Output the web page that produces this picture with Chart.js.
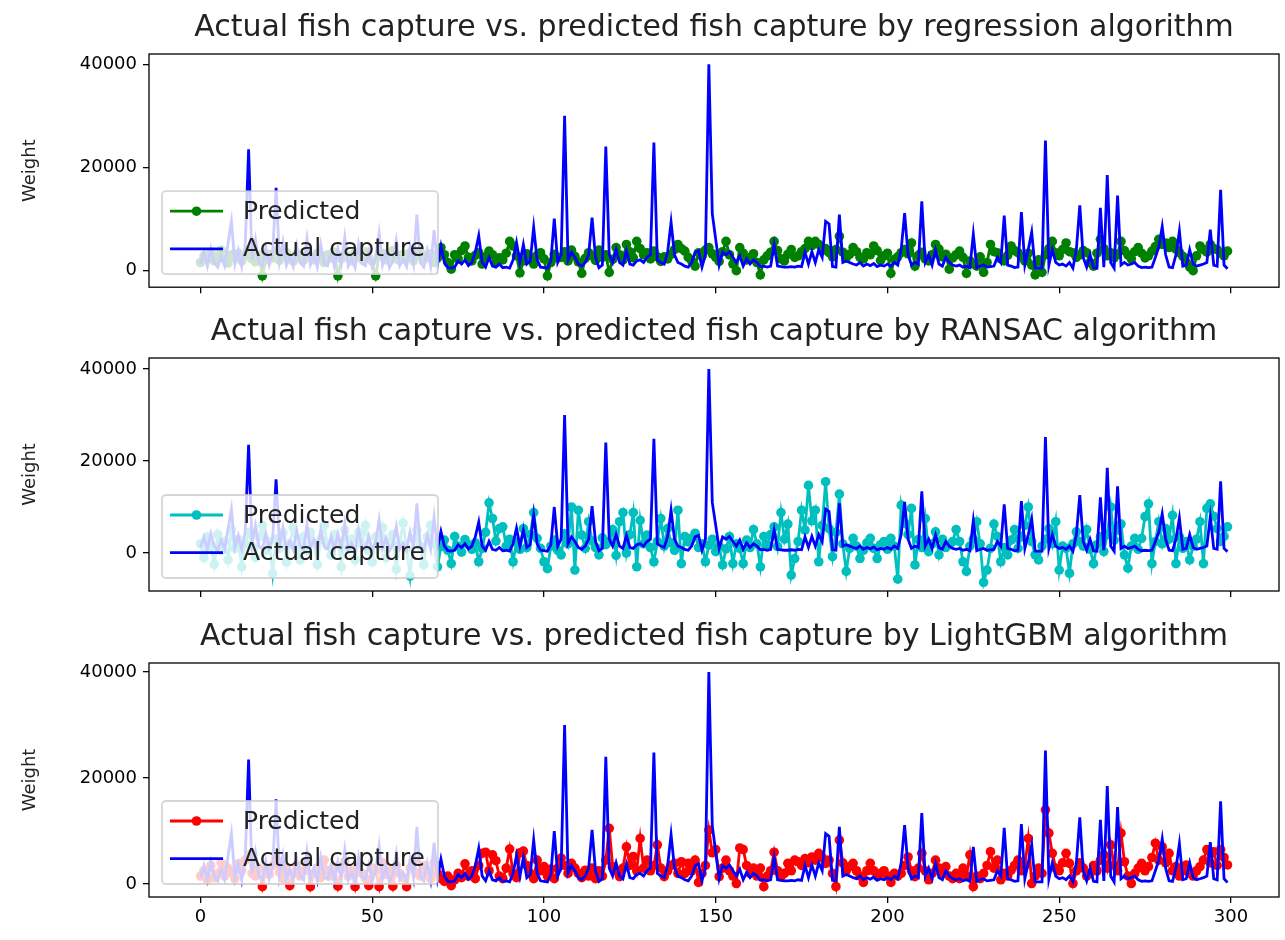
<!DOCTYPE html>
<html>
<head>
<meta charset="utf-8">
<script src="https://cdn.jsdelivr.net/npm/chart.js@4.4.1/dist/chart.umd.min.js"></script>
<style>
  html, body { margin: 0; padding: 0; background: #fff; }
  #figure { position: relative; width: 1285px; height: 940px; background: #fff; }
  #figure canvas { position: absolute; left: 0; }
</style>
</head>
<body>
<div id="figure">
  <canvas id="regChart" width="1285" height="304" style="top:0px"></canvas>
  <canvas id="ransacChart" width="1285" height="305" style="top:304px"></canvas>
  <canvas id="lgbmChart" width="1285" height="331" style="top:609px"></canvas>
</div>
<script>
// Actual capture (same in every panel), one value per sample index 0..299
const actualCapture = [
  1200, 3500, 800, 4200, 1500, 600, 2800, 900, 5200, 9500,
  1200, 3800, 700, 4500, 23500, 2000, 6000, 1500, 800, 4300,
  1000, 3200, 16000, 1800, 5500, 900, 2600, 700, 4800, 1500,
  800, 6200, 1100, 3000, 600, 5000, 1400, 900, 3600, 700,
  4200, 1200, 6400, 800, 2200, 500, 5100, 1300, 900, 3700,
  600, 2500, 7200, 1000, 3300, 500, 1800, 5800, 900, 2100,
  700, 4600, 1200, 10800, 1500, 600, 3900, 800, 7800, 1100,
  4700, 1500, 500, 400, 600, 1800, 1200, 2000, 900, 1500,
  3500, 6700, 1500, 600, 2500, 800, 600, 1200, 500, 600,
  400, 2000, 5400, 1500, 5000, 1200, 1800, 8300, 2000, 600,
  500, 400, 1800, 10000, 1500, 3000, 30000, 2000, 3500, 2500,
  1200, 800, 1500, 3000, 10200, 2500, 500, 1000, 24000, 3000,
  1500, 4000, 1500, 1000, 3800, 1200, 1000, 1800, 2000, 1500,
  2500, 3000, 24800, 2000, 1500, 1200, 3500, 9300, 3000, 1500,
  1200, 800, 600, 1500, 3500, 3800, 600, 3000, 40000, 11000,
  6000, 1000, 3500, 3000, 3600, 2500, 1500, 2800, 800, 2200,
  1200, 2000, 1500, 700, 800, 600, 800, 5000, 800, 700,
  600, 600, 700, 600, 800, 700, 3500, 1200, 3600, 1500,
  4000, 2500, 9500, 9000, 700, 600, 10800, 1500, 1800, 1500,
  1200, 1000, 1500, 800, 1200, 900, 1300, 700, 1000, 800,
  1200, 800, 1500, 1000, 4000, 11100, 3000, 1000, 1500, 1200,
  13400, 1500, 3000, 1000, 3900, 1200, 800, 2500, 1500, 1000,
  800, 1000, 600, 800, 500, 7000, 500, 800, 1000, 600,
  700, 800, 2500, 1500, 10600, 1000, 800, 500, 600, 11300,
  1000, 4000, 7400, 400, 400, 400, 25200, 1000, 4000, 1500,
  1000, 1200, 800, 1500, 400, 4000, 12600, 2500, 600, 3000,
  500, 400, 12100, 600, 18500, 1500, 400, 14500, 1000, 1500,
  1000, 1200, 1500, 800, 500, 600, 500, 600, 2500, 4500,
  8500, 3000, 600, 500, 3000, 7600, 800, 1000, 4000, 1200,
  800, 1000, 1200, 1500, 7900, 1000, 800, 15600, 1000, 300
];

// Regression predictions
const regressionPred = [
  1500, 2800, 2200, 3500, 1800, 2600, 3900, 2100, 1400, 3000,
  2500, 3300, 1800, 2700, 3800, 2200, 1600, 2900, -1100, 2000,
  3100, 2400, 3600, 1900, 2800, 3400, 2300, 1700, 3200, 2600,
  1900, 3700, 2500, 2000, 3300, 2700, 1500, 3000, 2400, 3500,
  -1100, 2200, 3100, 2600, 1800, 3400, 2900, 2100, 3600, 2300,
  1700, -1100, 2800, 3300, 2000, 2600, 3800, 2200, 1900, 3100,
  2500, 3400, 1800, 2900, 3600, 2100, 2700, 3200, 1500, 2400,
  4400, 3000, 1500, 200, 3000, 2200, 3800, 4700, 2500, 1800,
  2900, 3400, 1200, 2600, 3700, 3000, 1500, 2400, 2000, 3300,
  5600, 4700, 2800, -500, 1800, 3200, 2500, 1200, 2900, 3400,
  2200, -1100, 1500, 3100, 2400, 2500, 3600, 1800, 3900, 2700,
  1600, -600, 2300, 3400, 2800, 1900, 3900, 2500, 3000, -400,
  2100, 4400, 3000, 2000, 5000, 3600, 2400, 5600, 4200, 3000,
  3400, 2200, 3700, 2600, 1700, 2600, 2200, 3100, 4000, 5000,
  4200, 3700, 2500, 1800, 800, 3400, 2700, 3900, 4400, 3200,
  2500, 1700, 3600, 5600, 3000, 1200, -100, 4400, 3300, 2000,
  2500, 3200, 1500, -900, 2000, 2800, 3500, 5600, 3800, 2200,
  1800, 3100, 4000, 2500, 2800, 3600, 4200, 5600, 4800, 5600,
  5000, 3800, 4200, 3400, 2600, 4000, 6600, 3500, 2400, 3100,
  4400, 3600, 2500, 2200, 3400, 3000, 4700, 3800, 1900, 2800,
  3300, -600, 2100, 2600, 3400, 4000, 3200, 5300, 800, 2900,
  3500, 2200, 1800, 3000, 5000, 4100, 2600, 3100, 200, 2400,
  3000, 3700, 2500, -600, 1800, 1200, 800, 2600, -400, 1500,
  5000, 3600, 3400, 2200, 1800, 2900, 4700, 3800, 3400, 2600,
  1800, 3300, 1000, -900, 2000, -400, 3000, 4200, 5600, 3400,
  2800, 4000, 5300, 3600, 3400, 2500, 3000, 3800, 3400, 1500,
  800, 3300, 6000, 4200, 2800, 3400, 2400, 3100, 5600, 3800,
  3000, 2200, 3600, 4400, 3300, 2400, 2800, 3700, 4600, 6000,
  5000, 5300, 4400, 5600, 4100, 3400, 2700, 1500, 600, -100,
  2800, 4700, 4000, 3500, 5000, 4200, 4000, 3300, 2800, 3700
];

// RANSAC predictions
const ransacPred = [
  2000, -1000, 3500, 1500, -2500, 4000, 500, 2500, -1500, 5000,
  1000, 3000, -3000, 2000, 4500, 1500, -1000, 3500, 6000, 500,
  2500, -4500, 3000, 1000, 4500, -2000, 2000, 5500, 1000, -1500,
  3500, 500, 4500, 2000, -2500, 3000, 6000, 1500, -500, 4000,
  2500, -3000, 5000, 1000, 3000, -1500, 4500, 2000, 6000, 500,
  -2000, 3500, 1500, 5500, -1000, 2500, 4000, -3500, 2000, 6500,
  1000, -5000, 3000, 5000, 1500, -2500, 3500, 6000, 2000, -3000,
  1400, 2800, 600, -2300, 3600, 1500, 200, 2900, 1800, 800,
  2200, -1900, 1000, 4500, 10900, 7500, 2600, 5300, 5700, 1500,
  3000, -1900, 2400, 800, 5300, 1200, 4000, 8800, 3200, 1000,
  -1900, -3400, 1500, 2800, 600, -400, 4200, 2000, 10000, -3700,
  9300, 3900, 1000, 6800, 2600, 1200, -400, 3300, 1800, 2500,
  5100, -500, 6800, 8800, 0, 4000, 8800, -3000, 7100, 2000,
  3900, 1200, -1900, 2500, 7500, 1500, 5300, 2200, 600, 9300,
  -2300, 3600, 2400, 3200, 4300, 1200, 2000, -1900, 1700, 3000,
  300, 1500, -2600, 900, 3600, -2300, 2000, 1000, -2300, 2800,
  1200, 5100, 2000, -3000, 3600, 1800, 4000, 5700, 1400, 8800,
  3000, 6300, -4800, -1200, 2500, 9300, 5000, 14700, 7000, 9300,
  -1900, 6000, 15500, 5300, -800, 4500, 12800, 2000, -4000, 1000,
  3200, 1500, -1200, 600, 2200, 3200, 1000, -1200, 1800, 2500,
  800, 3200, 1500, -5700, 10400, 6500, 4000, 9700, -2600, 2900,
  1200, 7500, 300, 2000, 4600, -400, 3000, 1200, 1800, 2500,
  5100, 2500, -1900, -4000, 1500, 3000, 6800, 2000, -6400, -3700,
  1000, 6300, 3600, -1900, 1200, -400, 2800, 5100, 1000, 3500,
  6000, 10000, 2500, -400, -1500, 1500, 3000, 5300, 2000, 6800,
  -3700, 1500, 1000, -4400, 2000, 4600, 2500, 1500, 5100, 800,
  -2300, 1800, 3500, 300, 4000, 10000, 2800, 5000, 6300, -400,
  -3300, 1500, 3200, 800, 3200, 7900, 10700, -2300, 2500, 6800,
  2000, 5300, 3000, 8200, -2300, 3500, 1000, 2500, -1500, 1500,
  3000, 6800, -2300, 9700, 10700, 8000, 5300, 2500, 3600, 5700
];

// LightGBM predictions
const lightgbmPred = [
  1500, 2500, 800, 3500, 1200, 2000, 4000, 1500, 3000, 2200,
  1000, 3800, 2500, 4500, 5500, 2000, 1500, 3000, -500, 2500,
  1800, 3500, 4800, 2200, 1000, 3000, -300, 2000, 3500, 1500,
  2500, 4000, -500, 2000, 3000, 1200, 4500, 2500, 1500, 3200,
  -400, 2800, 4200, 1500, 2500, -500, 3500, 2000, 1000, -300,
  3000, 2500, -500, 4000, 1800, 2500, -400, 3500, 2000, 1200,
  -500, 3000, 4500, 2000, 1500, 3500, 2500, 1000, 4000, 2000,
  1000, 500, 1500, -300, 800, 2000, 1200, 3800, 1500, 2500,
  1000, 3500, 5800, 6000, 2500, 5500, 4400, 1500, 1000, 3000,
  6600, 2000, 1200, 5900, 6200, 3500, 2000, 1000, 4500, 2500,
  3300, 1500, 2800, 1000, 3000, 4900, 3500, 2000, 3900, 3000,
  2000, 1200, 2600, 1500, 3000, 1000, 2500, 1500, 4500, 10500,
  3300, 2500, 1400, 3000, 7000, 3500, 5200, 2500, 8600, 3000,
  4500, 2500, 3500, 7400, 3000, 1400, 2500, 3500, 3900, 2000,
  4200, 2000, 3900, 2500, 4500, 300, 2000, 3500, 10200, 5900,
  6500, 1400, 3000, 4500, 2500, 1500, 100, 6800, 6500, 3500,
  2000, 3000, 1500, 3000, -500, 1500, 2500, 6000, 2500, 1400,
  2000, 3900, 2500, 4500, 4200, 3500, 4800, 4000, 5100, 4500,
  5800, 5000, 3900, 4500, 2000, -500, 8300, 4000, 2500, 3300,
  3900, 2500, 1500, 300, 2500, 3900, 2500, 1500, 2000, 2500,
  1500, 300, 2000, 1500, 2000, 3500, 5100, 2500, 1400, 3000,
  5800, 2500, 800, 2000, 4500, 3000, 2000, 3300, 1500, 1000,
  2000, 1000, 3000, 1500, 5500, -500, 1500, 1000, 2000, 3500,
  6100, 3000, 4500, 800, 2000, 1500, 2600, 3500, 4500, 2500,
  3500, 8600, 100, 1500, 3000, 2000, 14000, 9600, 5800, 3000,
  2500, 4000, 5800, 3900, 100, 2500, 4000, 3000, 1500, 2000,
  3500, 2500, 4500, 5500, 3000, 7400, 3500, 2500, 9600, 4200,
  1500, 100, 2000, 3000, 3900, 2500, 3300, 5000, 7700, 4500,
  7000, 4000, 5800, 2500, 3300, 1500, 2500, 3600, 2000, 1500,
  2500, 3300, 4500, 6500, 4000, 6100, 3500, 6500, 5000, 3600
];

const xTicks = [0, 50, 100, 150, 200, 250, 300];
const yTicks = [0, 20000, 40000];
const actualColor = '#0000ff';

const toPoints = arr => arr.map((y, i) => ({ x: i, y: y }));

Chart.defaults.font.family = '"DejaVu Sans", sans-serif';
Chart.defaults.font.size = 18;
Chart.defaults.color = '#000';

// legend box inside the axes, frame, title and y label
const panelDecor = {
  id: 'panelDecor',
  afterDatasetsDraw(chart, args, opts) {
    const ctx = chart.ctx;
    const a = chart.chartArea;
    const bw = 276, bh = 83;
    const bx = a.left + 13, by = a.bottom - 13 - bh;
    ctx.save();
    ctx.beginPath();
    ctx.roundRect(bx, by, bw, bh, 4);
    ctx.fillStyle = 'rgba(255,255,255,0.8)';
    ctx.fill();
    ctx.strokeStyle = 'rgba(204,204,204,0.8)';
    ctx.lineWidth = 1.8;
    ctx.stroke();
    const rows = [
      { label: 'Predicted', color: opts.predColor, marker: true },
      { label: 'Actual capture', color: actualColor, marker: false }
    ];
    rows.forEach((r, i) => {
      const y = by + 20 + i * 37.6;
      ctx.strokeStyle = r.color;
      ctx.lineWidth = 2.8;
      ctx.beginPath();
      ctx.moveTo(bx + 8, y);
      ctx.lineTo(bx + 61, y);
      ctx.stroke();
      if (r.marker) {
        ctx.fillStyle = r.color;
        ctx.beginPath();
        ctx.arc(bx + 34.5, y, 4.8, 0, Math.PI * 2);
        ctx.fill();
      }
      ctx.fillStyle = '#222';
      ctx.font = '25px "DejaVu Sans"';
      ctx.textAlign = 'left';
      ctx.textBaseline = 'middle';
      ctx.fillText(r.label, bx + 81, y + 1);
    });
    ctx.restore();
  },
  afterDraw(chart, args, opts) {
    const ctx = chart.ctx;
    const a = chart.chartArea;
    ctx.save();
    ctx.strokeStyle = '#000';
    ctx.lineWidth = 1.3;
    ctx.strokeRect(a.left, a.top, a.right - a.left, a.bottom - a.top);

    ctx.fillStyle = '#222';
    ctx.font = '30px "DejaVu Sans"';
    ctx.textAlign = 'center';
    ctx.textBaseline = 'middle';
    ctx.fillText(opts.title, (a.left + a.right) / 2, a.top - 26);

    ctx.font = '18px "DejaVu Sans"';
    ctx.translate(30, (a.top + a.bottom) / 2);
    ctx.rotate(-Math.PI / 2);
    ctx.fillText('Weight', 0, 0);
    ctx.restore();
  }
};

function buildPanel(canvasId, title, predicted, predColor, yMin, yMax, showXLabels, xAxisHeight) {
  new Chart(document.getElementById(canvasId), {
    type: 'line',
    data: {
      datasets: [
        {
          label: 'Actual capture',
          data: toPoints(actualCapture),
          borderColor: actualColor,
          borderWidth: 2.8,
          pointRadius: 0,
          tension: 0,
          order: 1
        },
        {
          label: 'Predicted',
          data: toPoints(predicted),
          borderColor: predColor,
          backgroundColor: predColor,
          borderWidth: 2.8,
          pointRadius: 4.8,
          pointBorderWidth: 0,
          pointBackgroundColor: predColor,
          tension: 0,
          order: 2
        }
      ]
    },
    options: {
      responsive: false,
      animation: false,
      events: [],
      layout: { padding: { top: 54, left: 0, right: 6, bottom: 0 } },
      plugins: {
        legend: { display: false },
        tooltip: { enabled: false },
        panelDecor: { title: title, predColor: predColor }
      },
      scales: {
        x: {
          type: 'linear',
          min: -15,
          max: 314,
          afterBuildTicks: s => { s.ticks = xTicks.map(v => ({ value: v })); },
          afterFit: s => { s.height = xAxisHeight; },
          ticks: { display: showXLabels, padding: 4, maxRotation: 0, callback: v => String(v) },
          grid: { display: true, drawOnChartArea: false, drawTicks: true, tickLength: 6, color: '#000', lineWidth: 1.3 },
          border: { display: false }
        },
        y: {
          type: 'linear',
          min: yMin,
          max: yMax,
          afterBuildTicks: s => { s.ticks = yTicks.map(v => ({ value: v })); },
          afterFit: s => { s.width = 149; },
          ticks: { padding: 6, callback: v => String(v) },
          grid: { display: true, drawOnChartArea: false, drawTicks: true, tickLength: 6, color: '#000', lineWidth: 1.3 },
          border: { display: false }
        }
      }
    },
    plugins: [panelDecor]
  });
}

buildPanel('regChart', 'Actual fish capture vs. predicted fish capture by regression algorithm',
  regressionPred, '#008000', -3300, 42000, false, 16);
buildPanel('ransacChart', 'Actual fish capture vs. predicted fish capture by RANSAC algorithm',
  ransacPred, '#00bfbf', -8260, 42390, false, 18);
buildPanel('lgbmChart', 'Actual fish capture vs. predicted fish capture by LightGBM algorithm',
  lightgbmPred, '#ff0000', -2450, 41700, true, 43);
</script>
</body>
</html>
